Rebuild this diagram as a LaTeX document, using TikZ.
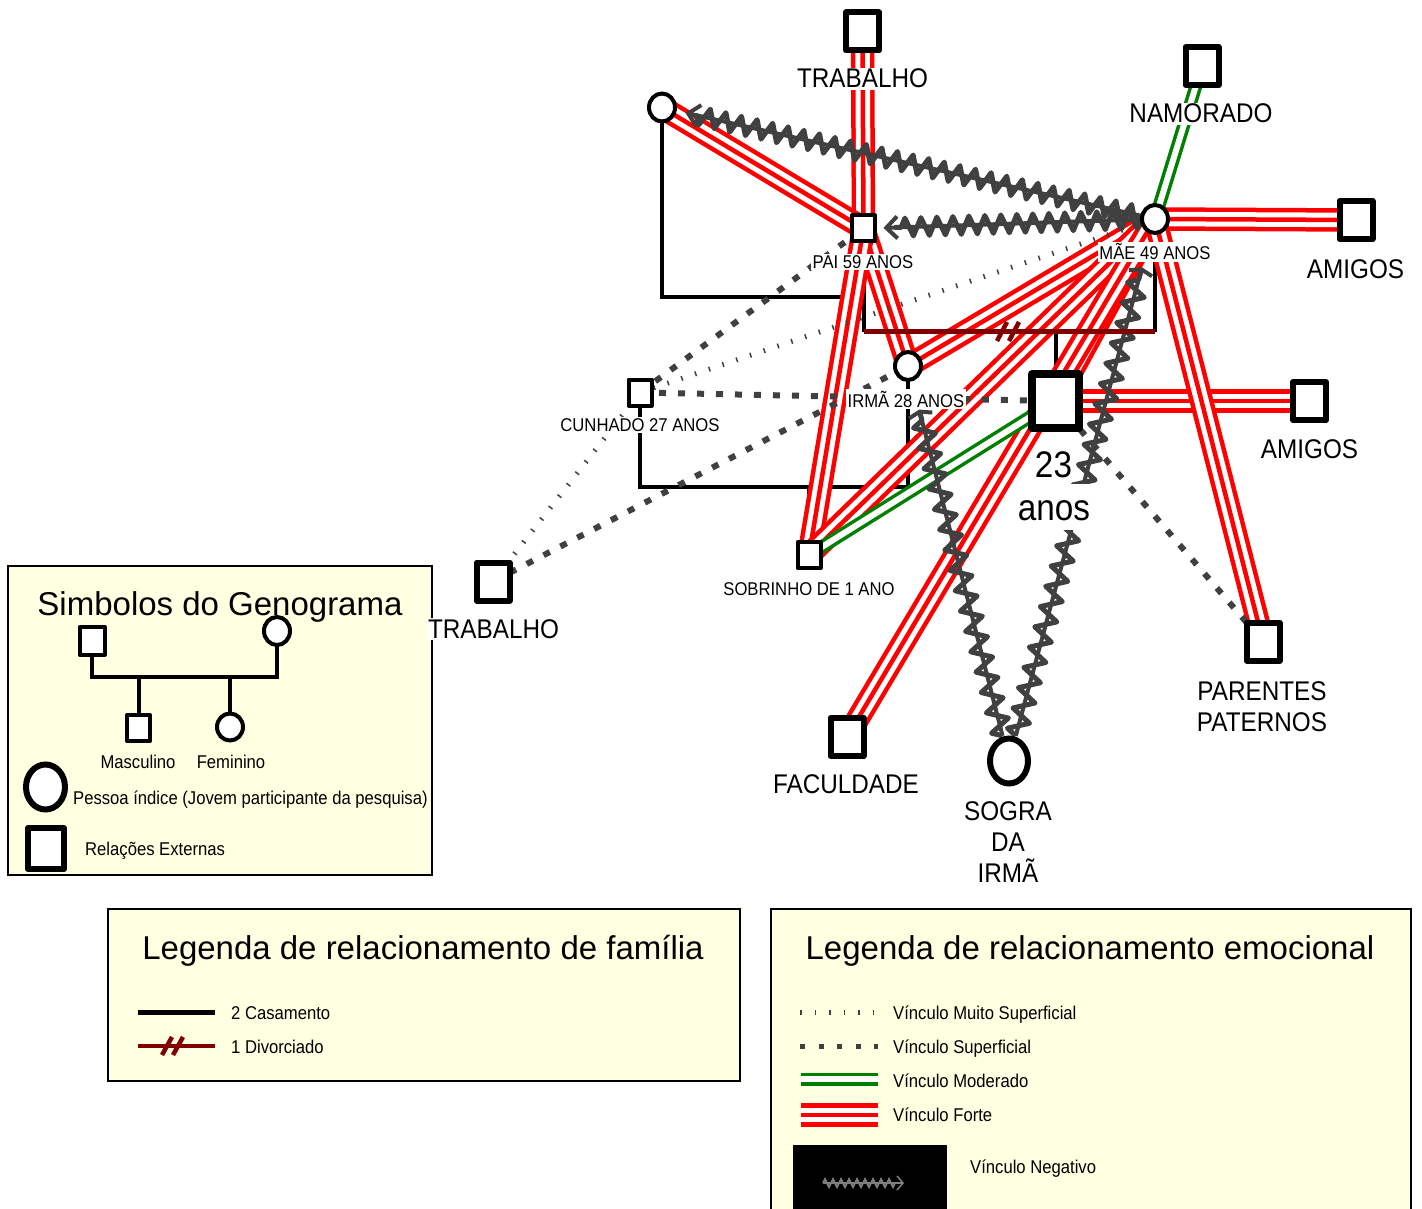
\documentclass[tikz,border=0pt]{standalone}
\usepackage{fontspec}
\setmainfont{Liberation Sans}
\newfontfamily\condsans{Liberation Sans}[FakeStretch=0.9]
\usetikzlibrary{arrows.meta,decorations.pathmorphing,calc,shapes.geometric}

\definecolor{tiered}{RGB}{255,0,0}
\definecolor{tiegreen}{RGB}{0,128,0}
\definecolor{tiemaroon}{RGB}{128,0,0}
\definecolor{tiegray}{RGB}{64,64,64}
\definecolor{legendfill}{RGB}{255,255,225}

\pgfdeclarelayer{paper}
\pgfdeclarelayer{legendbg}
\pgfdeclarelayer{links}
\pgfsetlayers{paper,legendbg,links,main}

\newcommand\biglabfont{\condsans\fontsize{27}{30}\selectfont}
\newcommand\smalllabfont{\condsans\fontsize{18.5}{21}\selectfont}
\newcommand\agefont{\condsans\fontsize{37}{40}\selectfont}
\newcommand\titlefont{\fontsize{33}{36}\selectfont}

\tikzset{
  extsq/.style={draw, line width=6, fill=white, minimum width=33, minimum height=38, inner sep=0, line join=round},
  malesq/.style={draw, line width=4, fill=white, minimum width=23, minimum height=26, inner sep=0, line join=round},
  femcirc/.style={ellipse, draw, line width=4, fill=white, minimum width=26, minimum height=28, inner sep=0},
  indexsq/.style={draw, line width=8, fill=white, minimum width=47, minimum height=54, inner sep=0, line join=round},
  bigcirc/.style={ellipse, draw, line width=6, fill=white, minimum width=38, minimum height=45, inner sep=0},
  biglab/.style={font=\biglabfont, anchor=base, fill=white, inner sep=1.5},
  smalllab/.style={font=\smalllabfont, anchor=base, fill=white, inner sep=1.5},
  legtext/.style={font=\smalllabfont, anchor=base west, inner sep=0},
  titletext/.style={font=\titlefont, anchor=base, inner sep=0},
  legendbox/.style={draw, line width=1.5, fill=legendfill},
  famline/.style={draw=black, line width=4},
  divline/.style={draw=tiemaroon, line width=4.5},
  strongpair/.style={draw=tiered, line width=4.5, double=white, double distance=14.5},
  strongmid/.style={draw=tiered, line width=4.5},
  modpair/.style={draw=tiegreen, line width=3.5, double=white, double distance=6},
  superficial/.style={draw=tiegray, line width=6, dash pattern=on 7 off 12},
  veryweak/.style={draw=tiegray, line width=5, dash pattern=on 1.5 off 13},
  negline/.style={draw=tiegray, line width=4, -{Straight Barb[length=11pt,width=22pt]}},
  neglineflat/.style={draw=tiegray, line width=4, -{Straight Barb[length=4pt,width=24pt]}},
  negzig/.style={draw=tiegray, line width=5, line join=round, decorate, decoration={zigzag, segment length=16pt, amplitude=9pt}},
}

% strong tie: three parallel red lines
\newcommand\strongtie[2]{%
  \draw[strongpair] (#1.center) -- (#2.center);
  \draw[strongmid] (#1.center) -- (#2.center);}
% moderate tie: two parallel green lines
\newcommand\modtie[2]{\draw[modpair] (#1.center) -- (#2.center);}
% negative tie: straight stroke with barb plus zigzag
% [tip style]{from}{to}{gap at from}{gap of tip at to}{gap of zigzag at to}{zigzag options}
\newcommand\negtie[7][negline]{%
  \draw[#1] ($(#2.center)!#4!(#3.center)$) -- ($(#3.center)!#5!(#2.center)$);
  \draw[negzig,decoration={#7}] ($(#2.center)!#4!(#3.center)$) -- ($(#3.center)!#6!(#2.center)$);}

\begin{document}
\begin{tikzpicture}[x=1pt,y=-1pt]
\useasboundingbox (0,0) rectangle (1422,1209);
\begin{pgfonlayer}{paper}
  \fill[white] (0,0) rectangle (1422,1209);
\end{pgfonlayer}

% ---------- legend frames ----------
\begin{pgfonlayer}{legendbg}
  \path[legendbox] (8,566) rectangle (432,875);
  \path[legendbox] (108,909) rectangle (740,1081);
  \path[legendbox] (771,909) rectangle (1411,1225);
\end{pgfonlayer}

% ---------- genogram symbols ----------
\node[titletext] at (220,615) {Simbolos do Genograma};
\node[malesq, minimum width=25, minimum height=28] (symM) at (92,641) {};
\node[femcirc] (symF) at (277,631) {};
\node[malesq] (symSon) at (138.5,728) {};
\node[femcirc, minimum height=27] (symDau) at (230,727) {};
\node[bigcirc, minimum width=39, minimum height=45] (symIdx) at (45.5,787) {};
\node[extsq, minimum width=36, minimum height=41] (symExt) at (46,848.5) {};
\coordinate (symBusL) at (92,676.5);
\coordinate (symBusR) at (277,676.5);
\node[legtext, anchor=base] at (138,768) {Masculino};
\node[legtext, anchor=base] at (231,768) {Feminino};
\node[legtext] at (73,804) {Pessoa índice (Jovem participante da pesquisa)};
\node[legtext] at (85,855) {Relações Externas};

% ---------- family legend ----------
\node[titletext] at (423,959) {Legenda de relacionamento de família};
\coordinate (lgMarA) at (138,1012);
\coordinate (lgMarB) at (215,1012);
\coordinate (lgDivA) at (138,1046);
\coordinate (lgDivB) at (215,1046);
\node[legtext] at (231,1019) {2 Casamento};
\node[legtext] at (231,1053) {1 Divorciado};

% ---------- emotional legend ----------
\node[titletext] at (1090,959) {Legenda de relacionamento emocional};
\coordinate (emA1) at (800,1012);   \coordinate (emB1) at (878,1012);
\coordinate (emA2) at (800,1046);   \coordinate (emB2) at (878,1046);
\coordinate (emA3) at (801,1079);   \coordinate (emB3) at (878,1079);
\coordinate (emA4) at (801,1115);   \coordinate (emB4) at (878,1115);
\node[legtext] at (893,1019.5) {Vínculo Muito Superficial};
\node[legtext] at (893,1053) {Vínculo Superficial};
\node[legtext] at (893,1087) {Vínculo Moderado};
\node[legtext] at (893,1121.5) {Vínculo Forte};
\node[fill=black, minimum width=154, minimum height=80, anchor=north west, inner sep=0] (negicon) at (793,1145) {};
\coordinate (niA) at (823,1183);
\coordinate (niB) at (904,1183);
\draw[draw=gray, line width=1.5, -{Straight Barb[length=6pt,width=14pt]}] (niA) -- (niB);
\draw[draw=gray, line width=1.8, decorate, decoration={zigzag, segment length=8pt, amplitude=4pt}] (niA) -- (895,1183);
\node[legtext] at (970,1173) {Vínculo Negativo};

% ---------- people ----------
\node[femcirc] (ex) at (662,107.5) {};
\node[malesq] (pai) at (863.5,228.5) {};
\node[femcirc] (mae) at (1155,219) {};
\node[femcirc] (irma) at (908,366) {};
\node[malesq] (cunh) at (640,392.5) {};
\node[malesq] (sobr) at (809,555) {};
\node[indexsq] (idx) at (1055.5,401) {};
\node[bigcirc] (sogra) at (1009,761) {};

% ---------- external relations ----------
\node[extsq] (trabT) at (862.5,31.5) {};
\node[extsq] (nam) at (1202,66) {};
\node[extsq] (amigT) at (1356,220) {};
\node[extsq] (amigM) at (1309.5,401) {};
\node[extsq] (parent) at (1263,641.5) {};
\node[extsq] (facul) at (847,737) {};
\node[extsq] (trabL) at (493,581.5) {};

% ---------- labels ----------
\node[biglab] at (862.5,88) {TRABALHO};
\node[biglab] at (1201,123) {NAMORADO};
\node[biglab] at (1355.5,278) {AMIGOS};
\node[biglab] at (1309.5,458) {AMIGOS};
\node[biglab] at (493.5,638) {TRABALHO};
\node[biglab] at (1262,700) {PARENTES};
\node[biglab] at (1262,731) {PATERNOS};
\node[biglab] at (846,793) {FACULDADE};
\node[biglab] at (1008,820) {SOGRA};
\node[biglab] at (1008,851) {DA};
\node[biglab] at (1008,882) {IRMÃ};
\node[biglab, font=\agefont] at (1053.5,477) {23};
\node[biglab, font=\agefont, text height=35, text depth=8.5] at (1054,520) {anos};
\node[smalllab] at (863,268.5) {PAI 59 ANOS};
\node[smalllab] at (1155,260) {MÃE 49 ANOS};
\node[smalllab] at (906,407) {IRMÃ 28 ANOS};
\node[smalllab] at (640,431.5) {CUNHADO 27 ANOS};
\node[smalllab] at (809,595) {SOBRINHO DE 1 ANO};

% ---------- family structure ----------
\coordinate (exbus) at (662,297);
\coordinate (paibus) at (863.5,297);
\coordinate (paidiv) at (863.5,331.5);
\coordinate (maediv) at (1155,331.5);
\coordinate (cunhbus) at (640,487);
\coordinate (divmark) at (1008,332);

\begin{pgfonlayer}{links}
  % legend strokes
  \draw[famline] (symM.center) -- (symBusL) -- (symBusR) -- (symF.center);
  \draw[famline] (symSon.center) -- (symSon.center |- symBusL);
  \draw[famline] (symDau.center) -- (symDau.center |- symBusL);
  \draw[famline, line width=5] (lgMarA) -- (lgMarB);
  \draw[divline] (lgDivA) -- (lgDivB);
  \draw[divline] (162,1055) -- (172,1037) (173,1055) -- (183,1037);
  \draw[veryweak] (emA1) -- (emB1);
  \draw[superficial, line width=5, dash pattern=on 5 off 13.5] (emA2) -- (emB2);
  \modtie{emA3}{emB3}
  \strongtie{emA4}{emB4}

  % marriages and children
  \draw[famline] (ex.center) -- (exbus) -- (paibus);
  \draw[famline] (pai.center) -- (paidiv);
  \draw[famline] (mae.center) -- (maediv);
  \draw[famline] (idx.center) -- (idx.center |- paidiv);
  \draw[famline] (cunh.center) -- (cunhbus) -- (irma.center |- cunhbus) -- (irma.center |- paidiv);
  \draw[famline] (sobr.center) -- (sobr.center |- cunhbus);

  % strong ties
  \strongtie{trabT}{pai}
  \strongtie{ex}{pai}
  \strongtie{pai}{irma}
  \strongtie{pai}{sobr}
  \strongtie{mae}{irma}
  \strongtie{mae}{sobr}
  \strongtie{mae}{idx}
  \strongtie{mae}{facul}
  \strongtie{mae}{amigT}
  \strongtie{idx}{amigM}
  \strongtie{mae}{parent}

  % moderate ties
  \modtie{nam}{mae}
  \modtie{idx}{sobr}

  % superficial ties
  \draw[superficial] (cunh.center) -- (idx.center);
  \draw[superficial] (cunh.center) -- (pai.center);
  \draw[superficial] (trabL.center) -- (irma.center);
  \draw[superficial] (idx.center) -- (parent.center);

  % very superficial ties
  \draw[veryweak] (cunh.center) -- (mae.center);
  \draw[veryweak] (cunh.center) -- (trabL.center);

  % negative ties
  \negtie{mae}{ex}{14pt}{24pt}{35pt}{}
  \negtie{mae}{pai}{14pt}{20pt}{31pt}{}
  \negtie[neglineflat]{sogra}{irma}{26pt}{45pt}{49pt}{segment length=21pt, amplitude=10pt}
  \negtie[neglineflat]{sogra}{mae}{26pt}{50pt}{54pt}{segment length=21pt, amplitude=10pt}

  % divorce
  \draw[divline] (paidiv) -- (maediv);
  \draw[divline] ([shift={(-11,9)}]divmark) -- ([shift={(-1,-10)}]divmark)
                 ([shift={(1,9)}]divmark) -- ([shift={(11,-10)}]divmark);
\end{pgfonlayer}
\end{tikzpicture}
\end{document}
